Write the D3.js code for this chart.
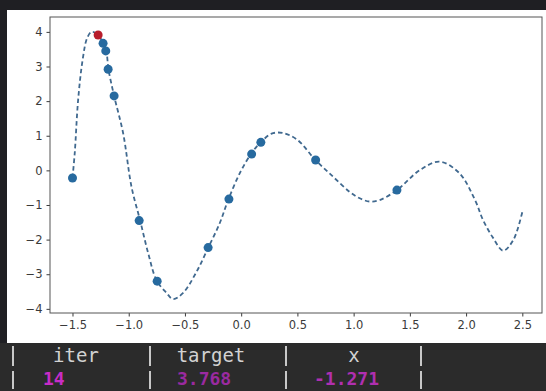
<!DOCTYPE html>
<html><head><meta charset="utf-8">
<script src="https://cdn.jsdelivr.net/npm/d3@7"></script>
<style>html,body{margin:0;padding:0;background:#1f1f23;}svg{display:block;}</style>
</head><body>
<script>
// ---- data ----
const curveX = [-1.50,-1.48,-1.45,-1.41,-1.37,-1.33,-1.27,-1.23,-1.20,-1.18,-1.13,-1.05,-0.975,-0.90,-0.827,-0.753,-0.664,-0.605,-0.516,-0.397,-0.294,-0.19,-0.116,-0.012,0.093,0.18,0.27,0.37,0.50,0.66,0.816,0.964,1.05,1.14,1.23,1.385,1.59,1.765,1.94,2.08,2.15,2.24,2.33,2.42,2.50];
const curveY = [-0.22,0.50,2.03,3.19,3.82,4.00,3.91,3.67,3.45,2.92,2.15,1.08,-0.48,-1.43,-2.39,-3.17,-3.54,-3.72,-3.54,-2.93,-2.24,-1.52,-0.86,-0.08,0.50,0.83,1.06,1.08,0.88,0.30,-0.18,-0.62,-0.80,-0.90,-0.86,-0.57,0.01,0.25,-0.08,-0.86,-1.43,-1.95,-2.32,-2.01,-1.20];
const obsX = [-1.50,-1.228,-1.204,-1.183,-1.130,-0.907,-0.747,-0.294,-0.109,0.093,0.175,0.662,1.385];
const obsY = [-0.22,3.67,3.45,2.92,2.15,-1.45,-3.20,-2.23,-0.83,0.47,0.81,0.30,-0.57];
const bestX = [-1.272];
const bestY = [3.91];
const xTicks = [-1.5,-1.0,-0.5,0.0,0.5,1.0,1.5,2.0,2.5];
const yTicks = [-4,-3,-2,-1,0,1,2,3,4];
const tableHeader = ["iter","target","x"];
const tableValues = ["14","3.768","-1.271"];

const W = 546, H = 391;
const svg = d3.select("body").append("svg").attr("width", W).attr("height", H);
svg.append("rect").attr("width", W).attr("height", H).attr("fill", "#1f1f23");
svg.append("rect").attr("x", 7).attr("y", 10).attr("width", W - 7).attr("height", 333).attr("fill", "#ffffff");
svg.append("rect").attr("x", 0).attr("y", 343).attr("width", W).attr("height", H - 343).attr("fill", "#2b2b2b");

const x = d3.scaleLinear().domain([-1.7, 2.675]).range([50, 542]);
const y = d3.scaleLinear().domain([-4.12, 4.43]).range([313, 17]);

const tickCol = "#3a3a3a";
const gx = svg.append("g").attr("transform", "translate(0,313)")
  .call(d3.axisBottom(x).tickValues(xTicks).tickFormat(d3.format(".1f")).tickSize(3.5).tickPadding(4));
const gy = svg.append("g").attr("transform", "translate(50,0)")
  .call(d3.axisLeft(y).tickValues(yTicks).tickFormat(d3.format("d")).tickSize(3.5).tickPadding(4));
[gx, gy].forEach(g => {
  g.select(".domain").remove();
  g.selectAll("line").attr("stroke", tickCol);
  g.selectAll("text").attr("fill", tickCol).style("font-family", "DejaVu Sans").style("font-size", "11.5px");
});
// frame
svg.append("rect").attr("x", 50).attr("y", 17).attr("width", 492).attr("height", 296)
  .attr("fill", "none").attr("stroke", "#555").attr("stroke-width", 1);

const pts = curveX.map((d, i) => [d, curveY[i]]);
const line = d3.line().x(d => x(d[0])).y(d => y(d[1])).curve(d3.curveCatmullRom.alpha(0.5));
svg.append("path").attr("d", line(pts)).attr("fill", "none")
  .attr("stroke", "#40698f").attr("stroke-width", 1.8).attr("stroke-dasharray", "4.5,3");

svg.append("g").selectAll("circle").data(obsX.map((d, i) => [d, obsY[i]])).join("circle")
  .attr("cx", d => x(d[0])).attr("cy", d => y(d[1])).attr("r", 4.5).attr("fill", "#276a9f");
svg.append("g").selectAll("circle").data(bestX.map((d, i) => [d, bestY[i]])).join("circle")
  .attr("cx", d => x(d[0])).attr("cy", d => y(d[1])).attr("r", 4.5).attr("fill", "#b81d2c");

// table
const sepX = [13, 150, 286, 421];
sepX.forEach(sx => {
  svg.append("line").attr("x1", sx).attr("x2", sx).attr("y1", 346).attr("y2", 366).attr("stroke", "#c8c8c8").attr("stroke-width", 2);
  svg.append("line").attr("x1", sx).attr("x2", sx).attr("y1", 371).attr("y2", 389).attr("stroke", "#c8c8c8").attr("stroke-width", 2);
});
const headCx = [76, 211, 354];
svg.append("g").selectAll("text").data(tableHeader).join("text")
  .attr("x", (d, i) => headCx[i]).attr("y", 362).attr("text-anchor", "middle")
  .attr("fill", "#d2d2d2").style("font-family", "DejaVu Sans Mono").style("font-size", "19px").text(d => d);
const valX = [43, 177, 314];
const valCol = ["#c82cc8", "#9a2aa0", "#b02fb0"];
svg.append("g").selectAll("text").data(tableValues).join("text")
  .attr("x", (d, i) => valX[i]).attr("y", 385).attr("fill", (d, i) => valCol[i])
  .style("font-family", "DejaVu Sans Mono").style("font-size", "18px").style("font-weight", "bold").text(d => d);
</script>
</body></html>
